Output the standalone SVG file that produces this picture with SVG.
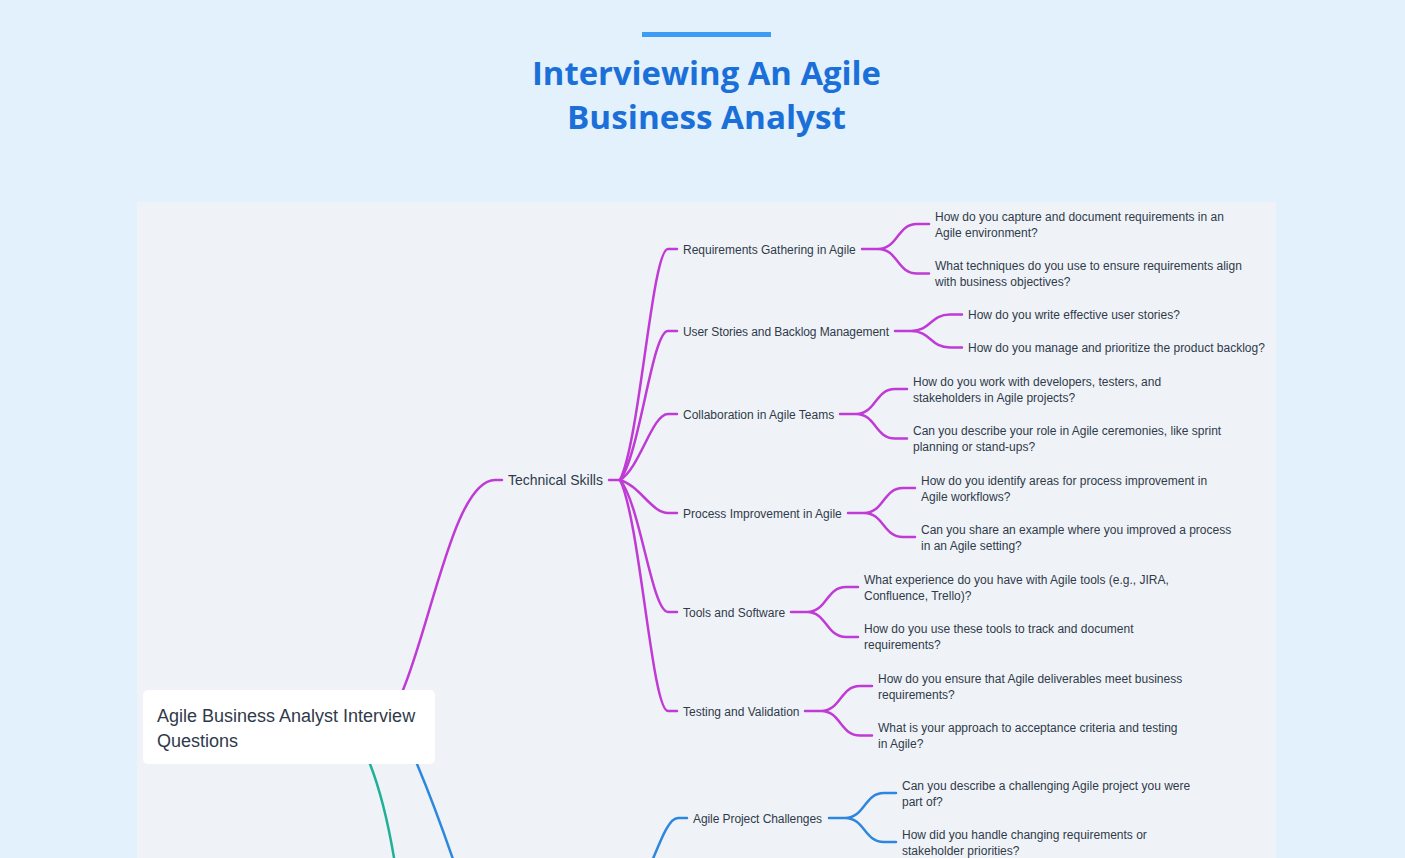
<svg xmlns="http://www.w3.org/2000/svg" width="1405" height="858" viewBox="0 0 1405 858">
<style>
.t{font-family:"Liberation Sans",Arial,sans-serif;fill:#2f3a4a}
.s{font-size:12px}
.m{font-size:14px}
.r{font-size:18px}
.ttl{font-family:"Open Sans","Liberation Sans",sans-serif;font-weight:700;font-size:32px;fill:#1a6fd8;text-anchor:middle}
.ln{fill:none;stroke-width:2.5;stroke-linecap:round}
.mg{stroke:#c03ad6}
.tl{stroke:#1fb195}
.bl{stroke:#2e87de}
</style>
<rect width="1405" height="858" fill="#e3f1fd"/>
<rect x="642" y="32" width="129" height="5" fill="#3d9cf3"/>
<text class="ttl" x="706.5" y="85" textLength="349" lengthAdjust="spacingAndGlyphs">Interviewing An Agile</text>
<text class="ttl" x="706.5" y="129" textLength="279" lengthAdjust="spacingAndGlyphs">Business Analyst</text>
<rect x="137" y="202" width="1139" height="700" fill="#eff3f7"/>
<g id="connectors">
<path class="ln mg" d="M 396 712 L 403 690 C 432 620, 455 480, 495 480 H 502"/>
<path class="ln tl" d="M 362 745 L 370 764 C 381 792, 389 825, 396 870 L 400 900"/>
<path class="ln bl" d="M 410 748 L 417 764 C 430 795, 443 830, 455 865 L 465 900"/>
<path class="ln bl" d="M 630 898 C 650 884, 662 818, 678 818 H 687"/>
<path class="ln mg" d="M 609 480 H 620"/>
<path class="ln mg" d="M 620 480 C 640 440, 652 249, 668 249 H 677"/>
<path class="ln mg" d="M 620 480 C 640 454, 652 331, 668 331 H 677"/>
<path class="ln mg" d="M 620 480 C 640 468, 652 414, 668 414 H 677"/>
<path class="ln mg" d="M 620 480 C 640 486, 652 513, 668 513 H 677"/>
<path class="ln mg" d="M 620 480 C 640 503, 652 612, 668 612 H 677"/>
<path class="ln mg" d="M 620 480 C 640 520, 652 711, 668 711 H 677"/>
<path class="ln mg" d="M 862 249 H 878 M 878 249 C 898 249, 897 224, 917 224 H 929 M 878 249 C 898 249, 897 273.5, 917 273.5 H 929"/>
<path class="ln mg" d="M 895 331 H 911 M 911 331 C 931 331, 930 314.5, 950 314.5 H 962 M 911 331 C 931 331, 930 347.5, 950 347.5 H 962"/>
<path class="ln mg" d="M 840 414 H 856 M 856 414 C 876 414, 875 389, 895 389 H 907 M 856 414 C 876 414, 875 438.5, 895 438.5 H 907"/>
<path class="ln mg" d="M 848 513 H 864 M 864 513 C 884 513, 883 488, 903 488 H 915 M 864 513 C 884 513, 883 537, 903 537 H 915"/>
<path class="ln mg" d="M 791 612 H 807 M 807 612 C 827 612, 826 587, 846 587 H 858 M 807 612 C 827 612, 826 637, 846 637 H 858"/>
<path class="ln mg" d="M 805 711 H 821 M 821 711 C 841 711, 840 686, 860 686 H 872 M 821 711 C 841 711, 840 735.5, 860 735.5 H 872"/>
<path class="ln bl" d="M 829 818 H 845 M 845 818 C 865 818, 864 793, 884 793 H 896 M 845 818 C 865 818, 864 842, 884 842 H 896"/>
</g>
<g id="root">
<rect x="143" y="690" width="292" height="74" rx="5" fill="#ffffff"/>
<text class="t r" x="157" y="722">Agile Business Analyst Interview</text>
<text class="t r" x="157" y="747">Questions</text>
</g>
<g id="technical-skills"><text class="t m" x="508" y="485">Technical Skills</text></g>
<g id="req"><text class="t s" x="683" y="253.5">Requirements Gathering in Agile</text></g>
<g id="req-q1"><text class="t s" x="935" y="220.5">How do you capture and document requirements in an</text><text class="t s" x="935" y="236.5">Agile environment?</text></g>
<g id="req-q2"><text class="t s" x="935" y="270">What techniques do you use to ensure requirements align</text><text class="t s" x="935" y="286">with business objectives?</text></g>
<g id="stories"><text class="t s" x="683" y="335.5" textLength="206">User Stories and Backlog Management</text></g>
<g id="stories-q1"><text class="t s" x="968" y="319">How do you write effective user stories?</text></g>
<g id="stories-q2"><text class="t s" x="968" y="352">How do you manage and prioritize the product backlog?</text></g>
<g id="collab"><text class="t s" x="683" y="418.5">Collaboration in Agile Teams</text></g>
<g id="collab-q1"><text class="t s" x="913" y="385.5">How do you work with developers, testers, and</text><text class="t s" x="913" y="401.5">stakeholders in Agile projects?</text></g>
<g id="collab-q2"><text class="t s" x="913" y="435">Can you describe your role in Agile ceremonies, like sprint</text><text class="t s" x="913" y="451">planning or stand-ups?</text></g>
<g id="process"><text class="t s" x="683" y="517.5">Process Improvement in Agile</text></g>
<g id="process-q1"><text class="t s" x="921" y="484.5">How do you identify areas for process improvement in</text><text class="t s" x="921" y="500.5">Agile workflows?</text></g>
<g id="process-q2"><text class="t s" x="921" y="534">Can you share an example where you improved a process</text><text class="t s" x="921" y="550">in an Agile setting?</text></g>
<g id="tools"><text class="t s" x="683" y="616.5">Tools and Software</text></g>
<g id="tools-q1"><text class="t s" x="864" y="583.5">What experience do you have with Agile tools (e.g., JIRA,</text><text class="t s" x="864" y="599.5">Confluence, Trello)?</text></g>
<g id="tools-q2"><text class="t s" x="864" y="633">How do you use these tools to track and document</text><text class="t s" x="864" y="649">requirements?</text></g>
<g id="testing"><text class="t s" x="683" y="715.5">Testing and Validation</text></g>
<g id="testing-q1"><text class="t s" x="878" y="682.5">How do you ensure that Agile deliverables meet business</text><text class="t s" x="878" y="698.5">requirements?</text></g>
<g id="testing-q2"><text class="t s" x="878" y="732">What is your approach to acceptance criteria and testing</text><text class="t s" x="878" y="748">in Agile?</text></g>
<g id="challenges"><text class="t s" x="693" y="822.5" textLength="129">Agile Project Challenges</text></g>
<g id="challenges-q1"><text class="t s" x="902" y="789.5">Can you describe a challenging Agile project you were</text><text class="t s" x="902" y="805.5">part of?</text></g>
<g id="challenges-q2"><text class="t s" x="902" y="839">How did you handle changing requirements or</text><text class="t s" x="902" y="855">stakeholder priorities?</text></g>
</svg>
